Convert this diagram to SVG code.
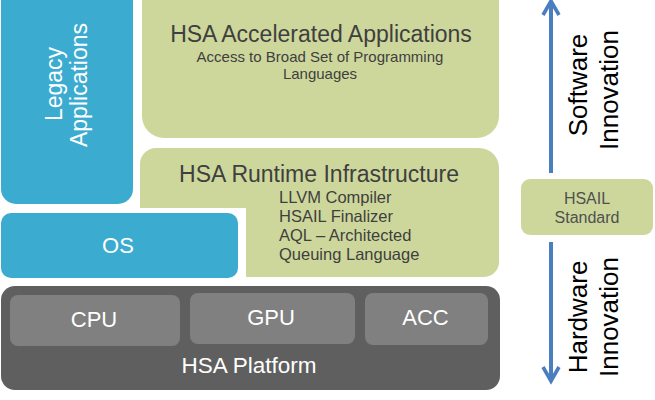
<svg xmlns="http://www.w3.org/2000/svg" width="655" height="400" viewBox="0 0 655 400">
<style>
.blue{fill:#3BACD0}
.green{fill:#CDD79B}
.dark{fill:#5F5F5F}
.mid{fill:#808080}
text{font-family:"Liberation Sans",Arial,sans-serif}
.w{fill:#FFFFFF}
.t{fill:#3F3F3F}
.arrow{stroke:#4A7EBF;stroke-width:4;fill:none}
</style>
<defs>
<marker id="ah" viewBox="0 0 10 10" refX="8" refY="5" markerWidth="5" markerHeight="5" orient="auto" markerUnits="strokeWidth">
<path d="M1,1 L8,5 L1,9" fill="none" stroke="#4A7EBF" stroke-width="1.8"/>
</marker>
</defs>
<rect width="655" height="400" fill="#FFFFFF"/>

<g id="legacy">
<path class="blue" d="M1,-20 H133 V189 A15 15 0 0 1 118 204 H16 A15 15 0 0 1 1 189 Z"/>
<text class="w" font-size="23" text-anchor="middle" transform="translate(62,84) rotate(-90)">Legacy</text>
<text class="w" font-size="23" text-anchor="middle" transform="translate(87,85) rotate(-90)">Applications</text>
</g>

<g id="accelerated">
<path class="green" d="M142,-20 H499 V116 A22 22 0 0 1 477 138 H164 A22 22 0 0 1 142 116 Z"/>
<text class="t" font-size="23" x="321" y="42" text-anchor="middle">HSA Accelerated Applications</text>
<text class="t" font-size="15" x="320" y="62" text-anchor="middle">Access to Broad Set of Programming</text>
<text class="t" font-size="15" x="320" y="79" text-anchor="middle">Languages</text>
</g>

<g id="runtime">
<path class="green" d="M156,148 H479 A20 20 0 0 1 499 168 V262 A15 15 0 0 1 484 277 H246 V208 H140 V164 A16 16 0 0 1 156 148 Z"/>
<text class="t" font-size="23" x="319" y="182" text-anchor="middle">HSA Runtime Infrastructure</text>
<text class="t" font-size="16.5" x="279" y="203">LLVM Compiler</text>
<text class="t" font-size="16.5" x="279" y="222">HSAIL Finalizer</text>
<text class="t" font-size="16.5" x="279" y="241">AQL – Architected</text>
<text class="t" font-size="16.5" x="279" y="260">Queuing Language</text>
</g>

<g id="os">
<rect class="blue" x="1" y="213" width="237" height="65" rx="10"/>
<text class="w" font-size="22" x="118" y="253" text-anchor="middle">OS</text>
</g>

<g id="platform">
<rect class="dark" x="1" y="286" width="499" height="104" rx="14"/>
<text class="w" font-size="22.5" x="249" y="373" text-anchor="middle">HSA Platform</text>
</g>
<g id="cpu">
<rect class="mid" x="10" y="295" width="170" height="51" rx="8"/>
<text class="w" font-size="22" x="94" y="327" text-anchor="middle">CPU</text>
</g>
<g id="gpu">
<rect class="mid" x="190" y="293" width="165" height="51" rx="8"/>
<text class="w" font-size="22" x="271" y="325" text-anchor="middle">GPU</text>
</g>
<g id="acc">
<rect class="mid" x="365" y="293" width="123" height="52" rx="8"/>
<text class="w" font-size="22" x="425.5" y="325" text-anchor="middle">ACC</text>
</g>

<g id="hsail">
<rect class="green" x="521" y="179" width="132" height="56" rx="9"/>
<text font-size="16" x="587" y="204" text-anchor="middle" fill="#505050">HSAIL</text>
<text font-size="16" x="587" y="223" text-anchor="middle" fill="#505050">Standard</text>
</g>

<g id="connectors">
<line class="arrow" x1="551" y1="173" x2="551" y2="1" marker-end="url(#ah)"/>
<line class="arrow" x1="551" y1="242" x2="551" y2="381" marker-end="url(#ah)"/>
</g>

<g id="labels">
<text font-size="26" fill="#000000" text-anchor="middle" transform="translate(587,85) rotate(-90)">Software</text>
<text font-size="26" fill="#000000" text-anchor="middle" transform="translate(618,90) rotate(-90)">Innovation</text>
<text font-size="26" fill="#000000" text-anchor="middle" transform="translate(587,317) rotate(-90)">Hardware</text>
<text font-size="26" fill="#000000" text-anchor="middle" transform="translate(618,317) rotate(-90)">Innovation</text>
</g>
</svg>
